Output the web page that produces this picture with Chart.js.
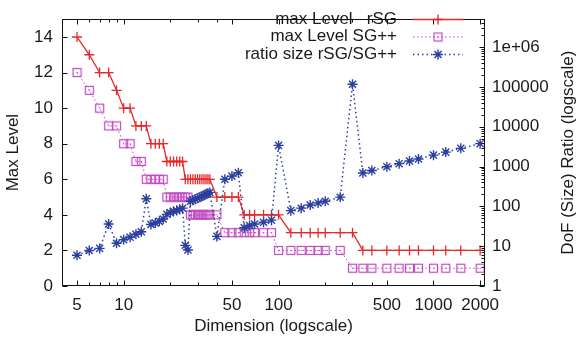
<!DOCTYPE html>
<html>
<head>
<meta charset="utf-8">
<script src="https://cdn.jsdelivr.net/npm/chart.js@4.4.1/dist/chart.umd.min.js"></script>
<style>
  html, body { margin: 0; padding: 0; background: #ffffff; }
  canvas { display: block; }
</style>
</head>
<body>
<canvas id="chart" width="578" height="341" style="width:578px;height:341px"></canvas>
<script>
// Problem dimension (x axis, log scale)
const dims = [5, 6, 7, 8, 9, 10, 11, 12, 13, 14, 15, 16, 17, 18, 19, 20, 21, 22, 23, 24,
  25, 26, 27, 28, 29, 30, 31, 32, 33, 34, 35, 36,
  40, 45, 50, 55, 60, 65, 70, 80, 90, 100,
  120, 140, 160, 180, 200, 250, 300,
  350, 400, 500, 600, 700, 800, 1000, 1200, 1500, 2000];

// Maximum refinement level reached by the rSG grid
const rsgLevel = [14, 13, 12, 12, 11, 10, 10, 9, 9, 9, 8, 8, 8, 8, 7, 7, 7, 7, 7, 7,
  6, 6, 6, 6, 6, 6, 6, 6, 6, 6, 6, 6,
  5, 5, 5, 5, 4, 4, 4, 4, 4, 4,
  3, 3, 3, 3, 3, 3, 3,
  2, 2, 2, 2, 2, 2, 2, 2, 2, 2];

// Maximum refinement level reached by the SG++ grid
const sgppLevel = [12, 11, 10, 9, 9, 8, 8, 7, 7, 6, 6, 6, 6, 6, 5, 5, 5, 5, 5, 5,
  5, 5, 4, 4, 4, 4, 4, 4, 4, 4, 4, 4,
  4, 3, 3, 3, 3, 3, 3, 3, 3, 2,
  2, 2, 2, 2, 2, 2, 1,
  1, 1, 1, 1, 1, 1, 1, 1, 1, 1];

// Ratio of degrees of freedom, rSG / SG++ (right axis, log scale)
const sizeRatio = [5.9, 7.8, 8.8, 36, 11.8, 14.6, 16.7, 20, 23, 155, 35, 38, 42, 48, 63, 69, 75, 79, 85, 90,
  10.5, 8, 134, 142, 150, 160, 170, 180, 190, 200, 212, 224,
  17.6, 477, 574, 698, 29, 33, 36, 40, 45, 3390,
  78, 90, 108, 122, 134, 170, 116000,
  687, 795, 990, 1180, 1370, 1550, 1930, 2300, 2860, 3750];

// Axis ticks
const xTickValues = [5, 10, 50, 100, 500, 1000, 2000];
const xMinorTicks = [6, 7, 8, 9, 20, 30, 40, 200, 300, 400];
const yTickValues = [0, 2, 4, 6, 8, 10, 12, 14];
const y2TickValues = [1, 10, 100, 1000, 10000, 100000, 1000000];
const y2TickLabels = ['1', '10', '100', '1000', '10000', '100000', '1e+06'];

const seriesLabels = ['max Level   rSG', 'max Level SG++', 'ratio size rSG/SG++'];
const axisTitles = { x: 'Dimension (logscale)', y: 'Max Level', y2: 'DoF (Size) Ratio (logscale)' };

const FONT = "'Liberation Sans', Arial, Helvetica, sans-serif";
const TEXT = '#1a1a1a';
const AXIS = '#111111';
const RED = '#e5282b';
const PURPLE = '#c04ac0';
const BLUE = '#2b3f9f';

Chart.defaults.font.family = FONT;
Chart.defaults.font.size = 17;
Chart.defaults.color = TEXT;

// open square with a centre dot, used as SG++ marker
function squareMarker(color) {
  const c = document.createElement('canvas');
  c.width = 11; c.height = 11;
  const g = c.getContext('2d');
  g.strokeStyle = color;
  g.lineWidth = 1.2;
  g.strokeRect(1.5, 1.5, 8, 8);
  g.fillStyle = color;
  g.fillRect(5, 5, 1.2, 1.2);
  return c;
}
const sqMark = squareMarker(PURPLE);

const pts = (ys) => dims.map((d, i) => ({ x: d, y: ys[i] }));

// inward tick marks, frame, axis titles and the key
const decorations = {
  id: 'decorations',
  afterDatasetsDraw(chart) {
    const { ctx, chartArea: a, scales } = chart;
    const L = Math.round(a.left) + 0.5, R = Math.round(a.right) - 0.5;
    const T = Math.round(a.top) + 0.5, B = Math.round(a.bottom) - 0.5;
    ctx.save();
    ctx.strokeStyle = AXIS;
    ctx.lineWidth = 1;
    ctx.setLineDash([]);
    ctx.strokeRect(L, T, R - L, B - T);
    ctx.beginPath();
    const major = 5, minor = 3;
    xTickValues.forEach(v => {
      const px = Math.round(scales.x.getPixelForValue(v)) + 0.5;
      ctx.moveTo(px, B); ctx.lineTo(px, B - major);
      ctx.moveTo(px, T); ctx.lineTo(px, T + major);
    });
    xMinorTicks.forEach(v => {
      const px = Math.round(scales.x.getPixelForValue(v)) + 0.5;
      ctx.moveTo(px, B); ctx.lineTo(px, B - minor);
      ctx.moveTo(px, T); ctx.lineTo(px, T + minor);
    });
    yTickValues.forEach(v => {
      const py = Math.round(scales.y.getPixelForValue(v)) + 0.5;
      ctx.moveTo(L, py); ctx.lineTo(L + major, py);
    });
    y2TickValues.forEach(v => {
      const py = Math.round(scales.y2.getPixelForValue(v)) + 0.5;
      ctx.moveTo(R, py); ctx.lineTo(R - major, py);
      for (let k = 2; k <= 9; k++) {
        const mv = v * k;
        if (mv > scales.y2.max) break;
        const mp = Math.round(scales.y2.getPixelForValue(mv)) + 0.5;
        ctx.moveTo(R, mp); ctx.lineTo(R - minor, mp);
      }
    });
    ctx.stroke();
    ctx.restore();
  },
  afterDraw(chart) {
    const { ctx, chartArea: a } = chart;
    ctx.save();
    ctx.fillStyle = TEXT;
    ctx.font = '17px ' + FONT;
    ctx.textAlign = 'center';
    ctx.textBaseline = 'middle';
    const midY = (a.top + a.bottom) / 2;
    // x title
    ctx.fillText(axisTitles.x, (a.left + a.right) / 2, 326);
    // left title
    ctx.save();
    ctx.translate(13, midY);
    ctx.rotate(-Math.PI / 2);
    ctx.fillText(axisTitles.y, 0, 0);
    ctx.restore();
    // right title
    ctx.save();
    ctx.translate(568, midY);
    ctx.rotate(-Math.PI / 2);
    ctx.fillText(axisTitles.y2, 0, 0);
    ctx.restore();

    // key
    const textRight = 397, lineFrom = 413, lineTo = 463;
    chart.data.datasets.forEach((ds, i) => {
      const y = 19 + i * 17.5;
      ctx.fillStyle = TEXT;
      ctx.textAlign = 'right';
      ctx.fillText(ds.label, textRight, y);
      ctx.save();
      ctx.strokeStyle = ds.borderColor;
      ctx.lineWidth = ds.borderWidth;
      ctx.setLineDash(ds.borderDash || []);
      ctx.beginPath();
      ctx.moveTo(lineFrom, y + 0.5);
      ctx.lineTo(lineTo, y + 0.5);
      ctx.stroke();
      ctx.setLineDash([]);
      ctx.strokeStyle = ds.pointBorderColor;
      ctx.lineWidth = ds.pointBorderWidth;
      Chart.helpers.drawPoint(ctx, {
        pointStyle: ds.pointStyle, radius: ds.pointRadius, rotation: 0, borderWidth: ds.pointBorderWidth
      }, (lineFrom + lineTo) / 2, y + 0.5);
      ctx.restore();
    });
    ctx.restore();
  }
};

new Chart(document.getElementById('chart'), {
  type: 'line',
  data: {
    datasets: [
      {
        label: seriesLabels[0], data: pts(rsgLevel), yAxisID: 'y', order: 3,
        borderColor: RED, borderWidth: 1.3, pointStyle: 'cross', pointRadius: 5,
        pointBorderColor: RED, pointBorderWidth: 1.3, pointBackgroundColor: 'transparent'
      },
      {
        label: seriesLabels[1], data: pts(sgppLevel), yAxisID: 'y', order: 2,
        borderColor: PURPLE, borderWidth: 1, borderDash: [1.5, 2.5], pointStyle: sqMark, pointRadius: 5,
        pointBorderColor: PURPLE, pointBorderWidth: 1, pointBackgroundColor: 'transparent'
      },
      {
        label: seriesLabels[2], data: pts(sizeRatio), yAxisID: 'y2', order: 1,
        borderColor: BLUE, borderWidth: 1.5, borderDash: [1.5, 3], pointStyle: 'star', pointRadius: 5,
        pointBorderColor: BLUE, pointBorderWidth: 1.4, pointBackgroundColor: 'transparent'
      }
    ]
  },
  options: {
    responsive: false,
    animation: false,
    layout: { padding: { top: 3, left: 0, right: 0, bottom: 0 } },
    plugins: { legend: { display: false }, tooltip: { enabled: false } },
    elements: { line: { tension: 0 } },
    scales: {
      x: {
        type: 'logarithmic', min: 4, max: 2150,
        grid: { display: false, drawTicks: false }, border: { display: false },
        ticks: { color: TEXT, padding: 9, maxRotation: 0, autoSkip: false, callback: v => String(v) },
        afterBuildTicks: s => { s.ticks = xTickValues.map(v => ({ value: v })); },
        afterFit: s => { s.height = 55; }
      },
      y: {
        type: 'linear', position: 'left', min: 0, max: 15,
        grid: { display: false, drawTicks: false }, border: { display: false },
        ticks: { color: TEXT, padding: 9, callback: v => String(v) },
        afterBuildTicks: s => { s.ticks = yTickValues.map(v => ({ value: v })); },
        afterFit: s => { s.width = 62; }
      },
      y2: {
        type: 'logarithmic', position: 'right', min: 1, max: 5e6,
        grid: { display: false, drawTicks: false }, border: { display: false },
        ticks: { color: TEXT, padding: 7, callback: (v, i) => y2TickLabels[i] },
        afterBuildTicks: s => { s.ticks = y2TickValues.map(v => ({ value: v })); },
        afterFit: s => { s.width = 93; }
      }
    }
  },
  plugins: [decorations]
});
</script>
</body>
</html>
